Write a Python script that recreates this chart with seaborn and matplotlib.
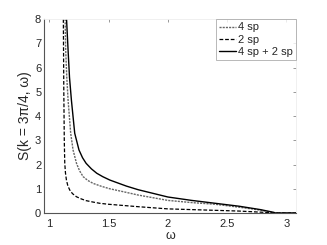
import numpy as np
import pandas as pd
import matplotlib
matplotlib.use("Agg")
import matplotlib.pyplot as plt
import seaborn as sns

omega_2sp = [1.118, 1.122, 1.126, 1.13, 1.136, 1.144, 1.156, 1.172, 1.195, 1.229, 1.27, 1.31,
             1.37, 1.426, 1.5, 1.6, 1.75, 2.0, 2.2, 2.4, 2.6, 2.8, 2.9, 3.08]
s_2sp = [8.0, 5.0, 3.0, 2.05, 1.65, 1.36, 1.12, 0.95, 0.8, 0.67, 0.58, 0.51,
         0.45, 0.40, 0.36, 0.32, 0.26, 0.17, 0.14, 0.11, 0.08, 0.03, 0.0, 0.0]

omega_4sp = [1.133, 1.138, 1.147, 1.158, 1.18, 1.2, 1.229, 1.255, 1.285, 1.325, 1.37, 1.44,
             1.51, 1.65, 1.75, 2.0, 2.2, 2.4, 2.6, 2.78, 2.9, 3.08]
s_4sp = [8.0, 6.7, 5.6, 4.66, 3.29, 2.6, 2.05, 1.74, 1.5, 1.34, 1.22, 1.1,
         1.0, 0.85, 0.74, 0.52, 0.43, 0.36, 0.24, 0.12, 0.0, 0.0]

omega_sum = [1.145, 1.158, 1.17, 1.186, 1.214, 1.25, 1.28, 1.31, 1.355, 1.40, 1.45, 1.51,
             1.65, 1.75, 2.0, 2.2, 2.4, 2.6, 2.78, 2.89, 2.91, 3.08]
s_sum = [8.0, 6.72, 5.6, 4.66, 3.29, 2.6, 2.28, 2.05, 1.82, 1.64, 1.5, 1.36,
         1.11, 0.96, 0.66, 0.52, 0.40, 0.28, 0.14, 0.03, 0.0, 0.0]

xticks = [1, 1.5, 2, 2.5, 3]
yticks = [0, 1, 2, 3, 4, 5, 6, 7, 8]

sns.set_style("white")
plt.rcParams['font.family'] = ['Liberation Sans', 'DejaVu Sans']

fig = plt.figure(figsize=(3.27, 2.45), dpi=100)
ax = fig.add_axes([0.1346, 0.1306, 0.7704, 0.7914])

sns.lineplot(x=omega_4sp, y=s_4sp, sort=False, ax=ax, color='#666666', lw=1.0,
             linestyle=(0, (1.5, 0.8)), label='4 sp')
sns.lineplot(x=omega_2sp, y=s_2sp, sort=False, ax=ax, color='black', lw=0.9,
             linestyle=(0, (3, 1.5)), label='2 sp')
sns.lineplot(x=omega_sum, y=s_sum, sort=False, ax=ax, color='black', lw=1.0,
             linestyle='-', label='4 sp + 2 sp')

ax.set_xlim(0.955, 3.08)
ax.set_ylim(0, 8)
ax.set_xticks(xticks)
ax.set_xticklabels(['1', '1.5', '2', '2.5', '3'])
ax.set_yticks(yticks)
ax.tick_params(direction='in', length=2.5, width=0.6, labelsize=8, pad=2,
               top=True, right=True, color='#888888')
ax.tick_params(axis='x', pad=4)
for side in ['top', 'right']:
    ax.spines[side].set_color('#eeeeee')
    ax.spines[side].set_linewidth(0.6)
for side in ['left', 'bottom']:
    ax.spines[side].set_color('#555555')
    ax.spines[side].set_linewidth(0.8)

ax.set_xlabel('ω', fontsize=9, labelpad=1)
ax.set_ylabel('S(k = 3π/4, ω)', fontsize=10, labelpad=2)

leg = ax.legend(loc='upper right', fontsize=8, frameon=True, fancybox=False,
                handlelength=1.5, handletextpad=0.2, borderpad=0.3,
                labelspacing=0.2, borderaxespad=0)
leg.get_frame().set_edgecolor('#999999')
leg.get_frame().set_linewidth(0.6)

fig.savefig('out.png', dpi=100)
